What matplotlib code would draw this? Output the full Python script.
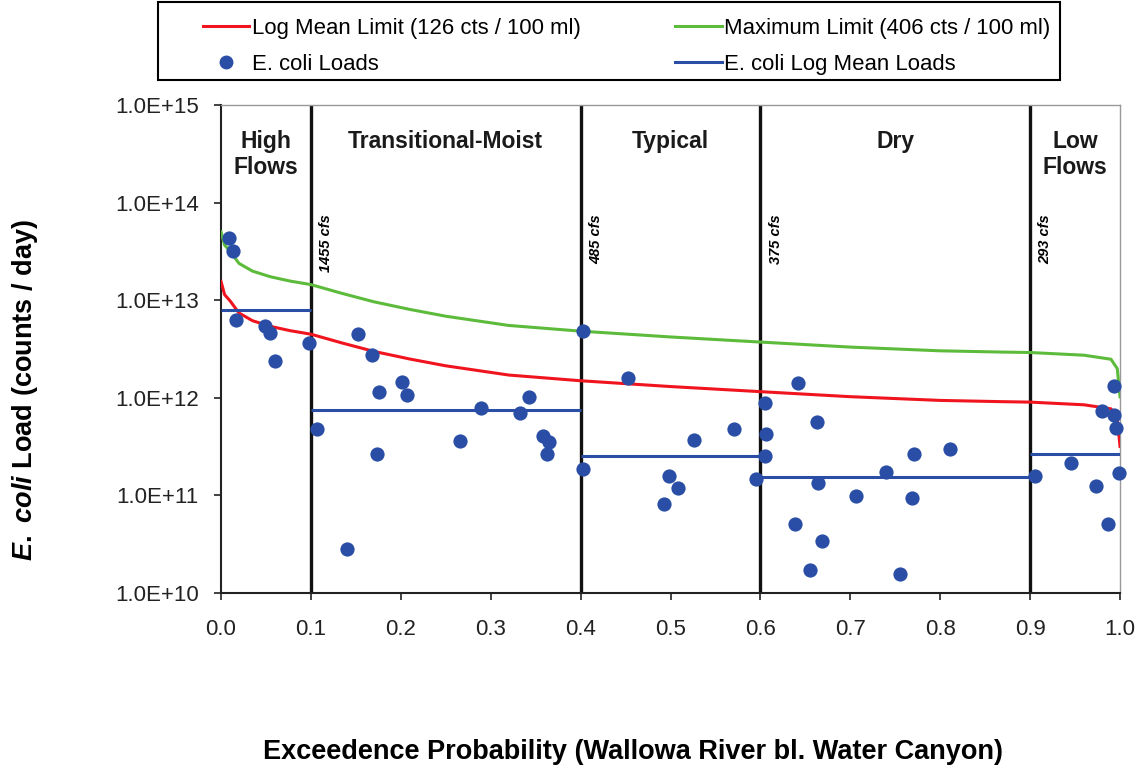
import numpy as np
import matplotlib.pyplot as plt
from matplotlib.lines import Line2D
from matplotlib.patches import Rectangle
from matplotlib.ticker import FuncFormatter, FixedLocator, NullLocator

plt.rcParams['font.family'] = ['Liberation Sans', 'DejaVu Sans']
plt.rcParams['mathtext.fontset'] = 'custom'
plt.rcParams['mathtext.it'] = 'Liberation Sans:italic:bold'
plt.rcParams['mathtext.rm'] = 'Liberation Sans:bold'

# flow duration curve (cfs) at exceedance probability
fdc_prob = [0.0, 0.004, 0.01, 0.02, 0.035, 0.055, 0.077, 0.1, 0.135, 0.17,
            0.21, 0.25, 0.32, 0.4, 0.5, 0.6, 0.7, 0.8, 0.87, 0.9,
            0.96, 0.99, 0.997, 1.0]
fdc_flow = [5050, 3700, 3200, 2400, 2000, 1750, 1580, 1455, 1180, 970,
            810, 690, 555, 485, 423, 375, 333, 305, 296, 293,
            275, 250, 200, 103]

log_mean_std = 126   # cts / 100 ml
max_std = 406        # cts / 100 ml
cfs_to_100ml_day = 2.4466e7

# observed E. coli loads (counts/day)
load_prob = [0.0089, 0.013, 0.0163, 0.049, 0.0545, 0.060, 0.0979, 0.1064,
             0.1398, 0.1527, 0.1676, 0.173, 0.1757, 0.2017, 0.2065, 0.2659,
             0.2892, 0.3326, 0.3429, 0.3578, 0.3623, 0.3649, 0.403, 0.403,
             0.453, 0.493, 0.498, 0.508, 0.5265, 0.571, 0.595, 0.605,
             0.606, 0.605, 0.639, 0.6415, 0.655, 0.6626, 0.6645, 0.669,
             0.706, 0.740, 0.755, 0.769, 0.7712, 0.811, 0.9055, 0.945,
             0.973, 0.9803, 0.987, 0.993, 0.9933, 0.995, 0.9992]
load_val = [4.37e13, 3.19e13, 6.34e12, 5.41e12, 4.63e12, 2.36e12, 3.65e12, 4.77e11,
            2.85e10, 4.55e12, 2.77e12, 2.64e11, 1.15e12, 1.44e12, 1.07e12, 3.61e11,
            7.83e11, 7.06e11, 1.02e12, 4.06e11, 2.64e11, 3.56e11, 4.89e12, 1.85e11,
            1.59e12, 8.15e10, 1.59e11, 1.18e11, 3.70e11, 4.83e11, 1.47e11, 8.84e11,
            4.23e11, 2.54e11, 5.15e10, 1.42e12, 1.73e10, 5.70e11, 1.35e11, 3.39e10,
            9.84e10, 1.75e11, 1.58e10, 9.31e10, 2.64e11, 2.97e11, 1.59e11, 2.13e11,
            1.25e11, 7.41e11, 5.04e10, 1.33e12, 6.70e11, 4.95e11, 1.71e11]

# flow zones
zone_edges = [0.0, 0.1, 0.4, 0.6, 0.9, 1.0]
zone_names = ['High\nFlows', 'Transitional-Moist', 'Typical', 'Dry', 'Low\nFlows']
zone_log_mean = [7.9e12, 7.55e11, 2.56e11, 1.56e11, 2.63e11]
break_flows = ['1455 cfs', '485 cfs', '375 cfs', '293 cfs']

red = '#F0141E'
green = '#5DBB3C'
blue = '#2A4EA6'

W, H = 1138, 771
fig = plt.figure(figsize=(W / 100, H / 100), dpi=100)
ax = fig.add_axes([221 / W, 1 - 593 / H, 899 / W, 488 / H])

flow = np.array(fdc_flow, dtype=float)
ax.plot(fdc_prob, flow * max_std * cfs_to_100ml_day, color=green, lw=2.2, zorder=3)
ax.plot(fdc_prob, flow * log_mean_std * cfs_to_100ml_day, color=red, lw=2.2, zorder=3)

for i, m in enumerate(zone_log_mean):
    ax.hlines(m, zone_edges[i], zone_edges[i + 1], color=blue, lw=2.2, zorder=3)

for xb in zone_edges[1:-1]:
    ax.axvline(xb, color='#111111', lw=2.4, zorder=2)

ax.scatter(load_prob, load_val, s=105, color=blue, zorder=5, clip_on=False,
           linewidths=0)

for i, name in enumerate(zone_names):
    xc = (zone_edges[i] + zone_edges[i + 1]) / 2
    ax.text(xc, 5.6e14, name, ha='center', va='top', fontsize=16.5,
            fontweight='bold', linespacing=1.2, color='#1a1a1a')

for xb, lab in zip(zone_edges[1:-1], break_flows):
    ax.text(xb + 0.017, 7.6e13, lab, rotation=90, ha='center', va='top',
            fontsize=10.5, fontweight='bold', fontstyle='italic')

ax.set_yscale('log')
ax.set_ylim(1e10, 1e15)
ax.set_xlim(0, 1.0)
ax.yaxis.set_major_locator(FixedLocator([1e10, 1e11, 1e12, 1e13, 1e14, 1e15]))
ax.yaxis.set_minor_locator(NullLocator())
ax.yaxis.set_major_formatter(FuncFormatter(lambda v, p: f'{v:.1E}'))
ax.set_xticks(np.arange(0, 1.01, 0.1))
ax.xaxis.set_major_formatter(FuncFormatter(lambda v, p: f'{v:.1f}'))
ax.tick_params(axis='both', direction='out', length=5, width=1.2,
               labelsize=16, color='#222222', labelcolor='#222222')
ax.tick_params(axis='y', pad=11)
ax.tick_params(axis='x', pad=14)

for side in ['left', 'bottom']:
    ax.spines[side].set_linewidth(1.5)
    ax.spines[side].set_color('#222222')
for side in ['top', 'right']:
    ax.spines[side].set_linewidth(1.0)
    ax.spines[side].set_color('#999999')

fig.text(25 / W, 1 - 390 / H, r'$\mathit{E.\ coli}$ Load (counts / day)',
         rotation=90, ha='center', va='center', fontsize=19.5, fontweight='bold')
fig.text(633 / W, 1 - 752 / H,
         'Exceedence Probability (Wallowa River bl. Water Canyon)',
         ha='center', va='center', fontsize=19.5, fontweight='bold')

# legend box drawn separately so the entries can sit inside a wider frame
fig.patches.append(Rectangle((158 / W, 1 - 80 / H), 902 / W, 78 / H,
                             transform=fig.transFigure, fill=False,
                             edgecolor='black', linewidth=1.5))
handles = [
    Line2D([], [], color=red, lw=2.2),
    Line2D([], [], color=blue, marker='o', ls='none', markersize=9),
    Line2D([], [], color=green, lw=2.2),
    Line2D([], [], color=blue, lw=2.2),
]
labels = ['Log Mean Limit (126 cts / 100 ml)', 'E. coli Loads',
          'Maximum Limit (406 cts / 100 ml)', 'E. coli Log Mean Loads']
fig.legend(handles, labels, loc='upper left', ncol=2,
           bbox_to_anchor=(203 / W, 1 - 18 / H),
           fontsize=15.9, frameon=False,
           handlelength=2.1, handletextpad=0.1, borderpad=0,
           labelspacing=0.68, columnspacing=4.3, borderaxespad=0)

fig.savefig('out.png', dpi=100)
